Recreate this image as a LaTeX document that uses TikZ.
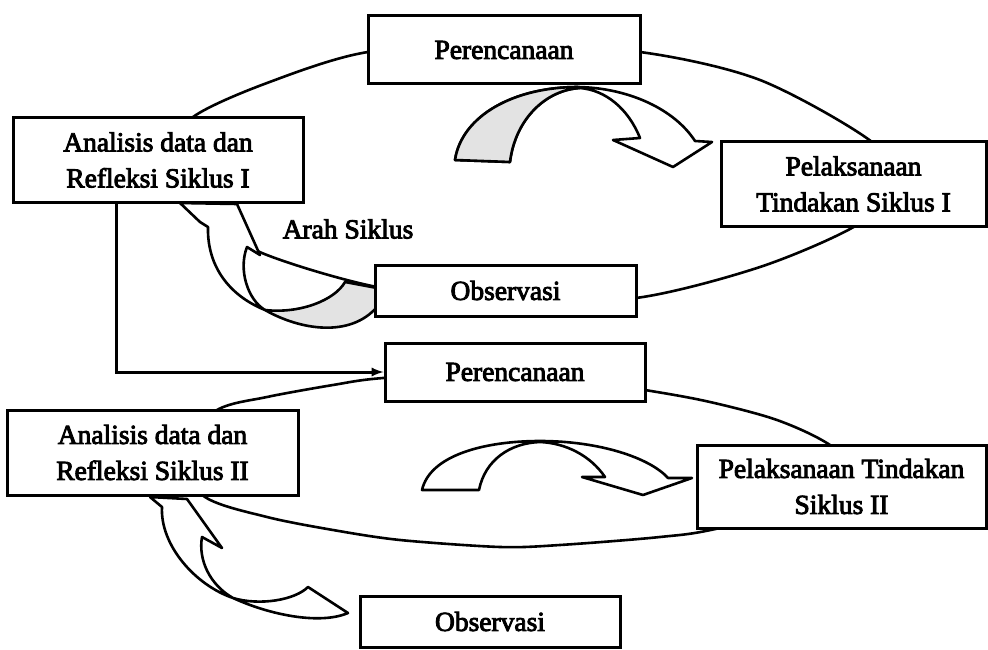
\documentclass[tikz,border=0pt]{standalone}
\usepackage{fontspec}
\newfontfamily\cetak{Liberation Serif}
\newcommand\tebal[1]{\special{pdf:literal direct 2 Tr 0.9 w}#1\special{pdf:literal direct 0 Tr 2.6 w}}
\usepackage{tikz}

\begin{document}
\begin{tikzpicture}[x=1pt,y=-1pt,
	kotak/.style={draw, line width=3pt, fill=white, align=center, inner sep=0pt,
		font=\cetak\fontsize{27.5}{36}\selectfont},
	garis/.style={line width=2.6pt},
	panah/.style={line width=2.6pt, fill=white, line join=round},
	bintik/.style={fill=gray!22}]
	\useasboundingbox (0,0) rectangle (988,650);

	% siklus I
	\draw [garis] plot [smooth cycle] coordinates {(504,46) (368,52) (267,83) (193,117) (160,160)
		(205,215) (262,253) (377,287) (505,300) (636,298) (760,267) (857,225) (893,185) (872,142)
		(760,80) (640,52)};
	% siklus II
	\draw [garis] plot [smooth cycle] coordinates {(170,452) (217,410) (267,397) (333,385) (383,378)
		(515,370) (645,390) (710,402) (777,420) (830,445) (880,488) (720,528) (660,537) (560,545)
		(500,547) (400,540) (333,530) (267,517) (205,497)};

	% panah atas I
	\draw [panah] (455,160) .. controls (462,115) and (515,87) .. (578,87)
		.. controls (630,88) and (675,110) .. (695,141) -- (712,142) -- (673,167) -- (613,140) -- (640,138)
		.. controls (628,108) and (605,90) .. (580,88)
		.. controls (545,90) and (515,120) .. (510,162) -- cycle;
	\fill [bintik] (455,160) .. controls (462,115) and (515,87) .. (578,87)
		-- (580,88) .. controls (545,90) and (515,120) .. (510,162) -- cycle;
	\draw [garis, line join=round] (455,160) .. controls (462,115) and (515,87) .. (578,87)
		(580,88) .. controls (545,90) and (515,120) .. (510,162) -- (455,160);

	% panah atas II
	\draw [panah] (422,490) .. controls (430,455) and (485,441) .. (540,441)
		.. controls (600,441) and (650,458) .. (668,478) -- (692,478) -- (643,495) -- (582,477) -- (605,477)
		.. controls (590,455) and (565,443) .. (540,442)
		.. controls (510,443) and (485,460) .. (479,490) -- cycle;

	% arah siklus I
	\draw [panah] (180,203) -- (200,222) -- (208,227) .. controls (207,265) and (228,295) .. (265,310)
		.. controls (248,300) and (238,270) .. (247,247) -- (260,255) -- (237,204) -- cycle;
	\filldraw [panah, bintik] (265,310) .. controls (300,330) and (350,338) .. (377,307)
		-- (377,288) -- (345,282) .. controls (335,300) and (300,314) .. (265,310) -- cycle;

	% arah siklus II
	\draw [panah] (150,497) -- (162,507) .. controls (160,545) and (195,585) .. (233,598)
		.. controls (270,615) and (320,625) .. (348,613) -- (308,587)
		.. controls (295,600) and (260,606) .. (233,598)
		.. controls (210,585) and (198,560) .. (202,537) -- (222,548) -- (187,499) -- cycle;

	% kotak
	\node [kotak, minimum width=272pt, minimum height=68pt] (per1) at (504,50) {\tebal{Perencanaan}};
	\node [kotak, minimum width=290pt, minimum height=84pt] (ana1) at (158,160) {\tebal{Analisis data dan}\\\tebal{Refleksi Siklus I}};
	\node [kotak, minimum width=265pt, minimum height=84pt] (pel1) at (853.5,184) {\tebal{Pelaksanaan}\\\tebal{Tindakan Siklus I}};
	\node [kotak, minimum width=261pt, minimum height=51pt] (obs1) at (505.5,290.5) {\tebal{Observasi}};
	\node [kotak, minimum width=260pt, minimum height=58pt] (per2) at (515,372) {\tebal{Perencanaan}};
	\node [kotak, minimum width=291pt, minimum height=85pt] (ana2) at (152.5,452.5) {\tebal{Analisis data dan}\\\tebal{Refleksi Siklus II}};
	\node [kotak, minimum width=289pt, minimum height=83pt] (pel2) at (841.5,486.5) {\tebal{Pelaksanaan Tindakan}\\\tebal{Siklus II}};
	\node [kotak, minimum width=260pt, minimum height=51pt] (obs2) at (490,621.5) {\tebal{Observasi}};

	% label
	\node [font=\cetak\fontsize{27.5}{36}\selectfont] (arah) at (348,229) {\tebal{Arah Siklus}};

	% I ke II
	\draw [line width=3pt, -latex] ([xshift=105pt]ana1.south west) |- (per2.west);
\end{tikzpicture}
\end{document}
